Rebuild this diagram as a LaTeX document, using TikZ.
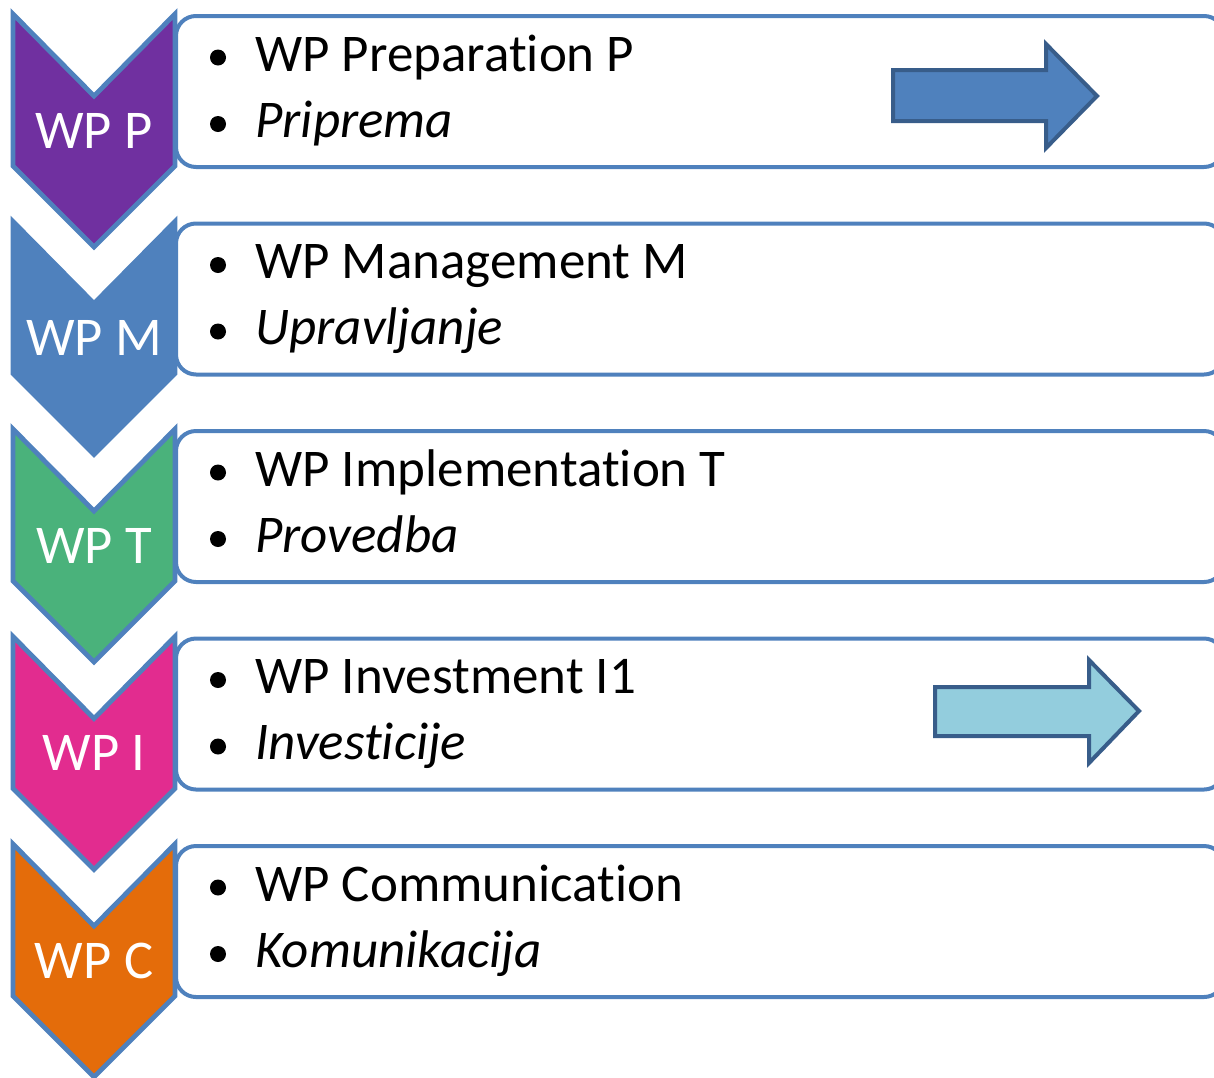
\documentclass[tikz,border=0pt]{standalone}
\usepackage{fontspec}
\setmainfont{Carlito}[Ligatures=CommonOff]
\definecolor{cLine}{HTML}{4F81BD}
\definecolor{cArrLine}{HTML}{385D8A}
\definecolor{cArrA}{HTML}{4F81BD}
\definecolor{cArrB}{HTML}{93CDDD}
\definecolor{cP}{HTML}{7030A0}
\definecolor{cM}{HTML}{4F81BD}
\definecolor{cT}{HTML}{4AB27B}
\definecolor{cI}{HTML}{E22C8F}
\definecolor{cC}{HTML}{E46C0A}
\tikzset{
  wpbox/.style={draw=cLine, line width=2pt, rounded corners=10pt, fill=white},
  chev/.style={draw=cLine, line width=2.4pt, line join=miter},
  chevlabel/.style={text=white, font=\fontsize{27.3}{32}\selectfont, anchor=base, inner sep=0pt},
  itemtext/.style={text=black, font=\fontsize{26.5}{31}\selectfont, anchor=base west, inner sep=0pt},
  bulletdot/.style={fill=black},
  blockarrow/.style={draw=cArrLine, line width=2pt, line join=miter},
}
\begin{document}
\begin{tikzpicture}[x=0.5pt,y=-0.5pt]
\useasboundingbox (0,0) rectangle (1214,1077);
\foreach \i/\col/\lab/\ta/\tb in {0/cP/WP P/WP Preparation P/Priprema,
  1/cM/WP M/WP Management M/Upravljanje,
  2/cT/WP T/WP Implementation T/Provedba,
  3/cI/WP I/WP Investment I1/Investicije,
  4/cC/WP C/WP Communication/Komunikacija}{
  \pgfmathsetmacro\dy{207.5*\i}
  \draw[wpbox] (176,16+\dy) rectangle (1224,167+\dy);
  \filldraw[chev, fill=\col] (13,14+\dy) -- (94,96+\dy) -- (175,14+\dy) -- (175,166+\dy) -- (94,247+\dy) -- (13,166+\dy) -- cycle;
  \node[chevlabel] (lab\i) at (94,148+\dy) {\lab};
  \fill[bulletdot] (218,57.5+\dy) circle (4pt);
  \fill[bulletdot] (218,124+\dy) circle (4pt);
  \node[itemtext] (ta\i) at (255,71+\dy) {\ta};
  \node[itemtext] (tb\i) at (255,137+\dy) {\itshape \tb};
}
\filldraw[blockarrow, fill=cArrA] (893,70) -- (1046,70) -- (1046,44) -- (1097,96) -- (1046,148) -- (1046,121) -- (893,121) -- cycle;
\filldraw[blockarrow, fill=cArrB] (935,687) -- (1089,687) -- (1089,660) -- (1139,711) -- (1089,763) -- (1089,736) -- (935,736) -- cycle;
\end{tikzpicture}
\end{document}
